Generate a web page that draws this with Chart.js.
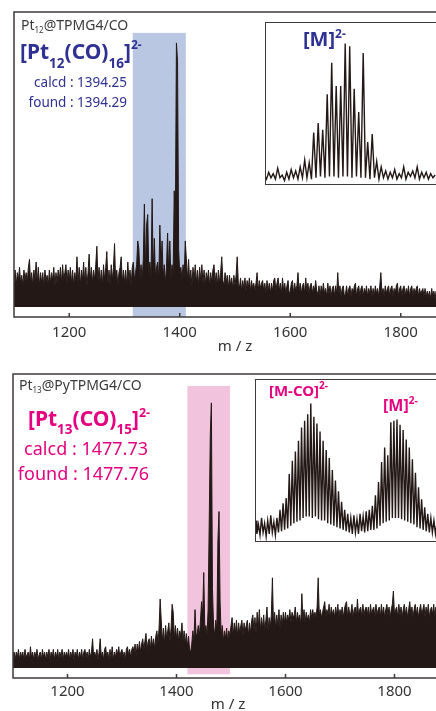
<!DOCTYPE html>
<html>
<head>
<meta charset="utf-8">
<script src="https://cdn.jsdelivr.net/npm/chart.js@4.4.0/dist/chart.umd.min.js"></script>
<style>
  html, body { margin: 0; padding: 0; background: #fff; width: 436px; height: 711px; overflow: hidden; }
  body { position: relative; font-family: "Noto Sans", sans-serif; }
  canvas { position: absolute; display: block; }
  .inset { position: absolute; background: #fff; border: 1.5px solid #3e3a39; overflow: hidden; }
  .inset canvas { left: 0; top: 0; }
  .t { position: absolute; line-height: 1; white-space: nowrap; }
  .t span { position: relative; }
  .navy { color: #2e3192; }
  .mag { color: #e4007f; }
  .b { font-weight: 700; }
</style>
</head>
<body>
<canvas id="pt12Main" width="456" height="357" style="left:0;top:0"></canvas>
<canvas id="pt13Main" width="443" height="361" style="left:0;top:362px"></canvas>

<div class="inset" style="left:265px;top:22px;width:200px;height:161px">
  <canvas id="pt12Inset" width="171" height="161"></canvas>
</div>
<div class="inset" style="left:255px;top:379px;width:200px;height:161px">
  <canvas id="pt13Inset" width="181" height="161"></canvas>
</div>

<!-- top panel text -->
<div class="t" style="left:21px;top:17.5px;font-size:14px;color:#3a3a3a">Pt<span style="font-size:8px;top:3px">12</span>@TPMG4/CO</div>
<div class="t navy b" style="left:20px;top:40.7px;font-size:21px">[Pt<span style="font-size:13.5px;top:9px">12</span>(CO)<span style="font-size:13.5px;top:9px">16</span>]<span style="font-size:12px;top:-10px">2-</span></div>
<div class="t navy" style="right:309px;top:76px;font-size:13.5px">calcd : 1394.25</div>
<div class="t navy" style="right:309px;top:96px;font-size:13.5px">found : 1394.29</div>
<div class="t navy b" style="left:303px;top:28.9px;font-size:20px">[M]<span style="font-size:12px;top:-8px">2-</span></div>

<!-- bottom panel text -->
<div class="t" style="left:19px;top:377.6px;font-size:14px;color:#3a3a3a">Pt<span style="font-size:8px;top:3px">13</span>@PyTPMG4/CO</div>
<div class="t mag b" style="left:28px;top:407.9px;font-size:21px">[Pt<span style="font-size:13.5px;top:8px">13</span>(CO)<span style="font-size:13.5px;top:8px">15</span>]<span style="font-size:12.5px;top:-9px">2-</span></div>
<div class="t mag" style="right:288px;top:439px;font-size:18px">calcd : 1477.73</div>
<div class="t mag" style="right:287px;top:464px;font-size:18px">found : 1477.76</div>
<div class="t mag b" style="left:269px;top:382.7px;font-size:15px">[M-CO]<span style="font-size:10px;top:-7px">2-</span></div>
<div class="t mag b" style="left:383px;top:396.8px;font-size:16px">[M]<span style="font-size:10px;top:-7px">2-</span></div>

<script>
const family = '"Noto Sans", sans-serif';
const ink = '#231815';
const xTicks = [1200, 1400, 1600, 1800];

// Pt12@TPMG4/CO, m/z 1100-1900 every 2 (relative intensity)
const pt12Start = 1100, pt12Step = 2;
const pt12Intensity = [
  9,14,8,13,10, 15,9,12,8,14, 10,13,9,15,18, 9,13,8,14,10, 17,9,15,8,13,      // 1100
  9,13,8,14,10, 12,8,14,9,13, 10,15,8,13,9, 14,10,15,9,16, 10,13,16,9,14,     // 1150
  10,15,9,14,8, 13,10,19,9,15, 8,14,10,17,9, 15,8,13,20,10, 15,9,14,10,16,    // 1200
  23,10,15,9,14, 8,16,10,15,21, 9,14,8,16,10, 15,24,9,14,8, 13,15,19,9,14,    // 1250
  9,14,8,17,10, 14,8,15,17,10, 13,16,25,22,11, 16,10,18,39,14, 31,35,12,17,11, // 1300
  41,13,26,11,15, 17,10,31,14,25, 11,16,9,15,28, 13,25,11,16,12, 44,30,100,93,22, // 1350
  12,15,10,16,11, 25,18,10,18,9, 14,8,15,10,16, 9,14,8,15,10, 16,9,14,8,13,   // 1400
  10,14,8,13,9, 14,16,9,13,8, 14,9,13,19,10, 8,13,9,12,7, 12,8,11,7,12,       // 1450
  8,12,19,9,7, 11,6,10,7,11, 6,10,7,11,6, 10,7,9,6,9, 13,6,10,7,9,            // 1500
  10,6,9,5,10, 6,9,5,9,6, 10,11,6,9,11, 6,9,5,11,6, 9,5,8,10,5,               // 1550
  6,9,10,5,9, 6,8,13,6,9, 5,8,9,5,11, 6,9,5,8,9, 5,8,6,10,6,                  // 1600
  5,8,4,8,5, 9,5,7,4,9, 5,8,4,7,8, 4,8,5,13,5, 8,4,7,8,4,                     // 1650
  5,8,4,7,8, 4,7,5,8,9, 4,7,8,4,7, 8,4,7,5,8, 4,7,5,8,4,                      // 1700
  7,4,8,5,7, 4,8,13,5,7, 4,8,5,7,8, 4,7,8,4,7, 5,8,9,4,7,                     // 1750
  8,4,7,8,4, 7,5,8,4,7, 8,4,7,5,7, 8,4,7,5,6, 7,4,7,4,6,                      // 1800
  4,6,3,7,4, 6,3,6,4,7, 3,6,3,6,4, 7,3,6,4,5, 6,3,7,4,6,                      // 1850
  4                                                                           // 1900
];
const pt12Band = [1315, 1411];

// Pt13@PyTPMG4/CO, m/z 1100-1888 every 2
const pt13Start = 1100, pt13Step = 2;
const pt13Intensity = [
  4,6,3,6,4, 7,3,6,4,6, 3,7,4,5,6, 3,8,4,6,3, 6,4,7,3,5,                      // 1100
  6,3,7,4,6, 3,6,4,7,3, 6,4,7,3,6, 4,7,3,6,4, 7,3,6,4,6,                      // 1150
  4,7,3,6,4, 7,3,6,4,7, 3,6,4,7,3, 6,7,4,6,3, 7,4,6,11,4,                     // 1200
  6,4,7,3,6, 11,4,6,3,7, 8,4,6,3,7, 4,8,3,6,4, 7,5,8,4,6,                     // 1250
  7,4,6,3,7, 8,5,7,4,7, 8,6,9,5,9, 6,10,6,9,11, 7,10,13,7,10,                 // 1300
  11,7,12,8,11, 7,12,14,9,15, 26,18,10,15,9, 16,11,14,17,10, 15,24,21,11,16,  // 1350
  11,15,10,14,12, 17,10,14,9,13, 8,12,7,6,9, 14,10,22,12,13, 16,12,18,25,20,  // 1400
  36,14,16,12,22, 54,88,100,30,16, 12,18,14,48,59, 25,12,16,10,14, 11,15,10,14,12, // 1450
  16,19,12,17,13, 18,12,17,13,16, 18,12,17,14,16, 18,12,17,13,18, 20,14,19,13,21, // 1500
  15,22,14,19,15, 20,14,18,23,14, 19,15,20,34,16, 21,15,20,16,22, 15,20,16,21,17, // 1550
  21,17,20,18,22, 17,21,19,20,23, 17,21,18,20,16, 28,18,22,17,21, 18,20,17,22,19, // 1600
  22,19,21,19,23, 34,20,22,19,21, 23,25,19,22,20, 24,19,23,20,22, 19,23,20,24,19, // 1650
  22,20,23,19,22, 24,25,19,23,20, 21,24,19,22,23, 19,26,20,22,23, 19,24,20,22,23, // 1700
  20,23,19,24,20, 22,23,19,24,20, 22,23,19,24,20, 23,19,22,24,20, 23,19,22,24,29, // 1750
  20,22,23,19,24, 20,23,19,22,24, 20,23,19,22,25, 20,23,19,22,24, 20,23,19,22,24, // 1800
  20,22,24,19,23, 20,24,19,22,23, 20,24,19,23,20, 22,24,19,23,20                  // 1850
];
const pt13Band = [1420, 1498];

// inset [M]2- of Pt12, m/z 1385-1404 every 0.25
const pt12InsetStart = 1385, insetStep = 0.25;
const pt12InsetIntensity = [
  4,1,6,2, 5,1,9,2, 4,0,6,1, 8,2,7,1, 10,2,15,2,          // 1385-1389
  13,1,35,2, 42,3,37,2, 63,3,86,3, 69,2,69,3, 100,3,98,2, // 1390-1394
  67,3,50,2, 93,2,28,1, 34,2,14,1, 10,2,7,1, 6,2,8,1,     // 1395-1399
  5,2,10,1, 6,3,7,2, 10,1,6,2, 6,1,5,2, 4                 // 1400-1404
];

// inset [M-CO]2- / [M]2- of Pt13, m/z 1454.5-1484 every 0.25
const pt13InsetStart = 1454.5;
const pt13InsetIntensity = [
  12,2,
  9,1,14,3, 10,0,12,2, 16,3,11,1, 14,3,20,4, 25,5,29,6,        // 1455-1459
  47,8,57,10, 64,11,72,12, 82,14,87,15, 92,15,100,14, 90,15,85,13, // 1460-1464
  79,12,72,12, 65,10,59,9, 50,8,42,7, 34,6,26,5, 20,4,17,3,    // 1465-1469
  14,2,16,3, 13,2,17,4, 15,3,19,4, 20,5,23,5, 31,6,41,8,       // 1470-1474
  56,10,67,11, 61,12,86,14, 87,14,88,14, 84,13,80,12, 73,11,67,10, // 1475-1479
  58,9,48,7, 37,6,28,5, 22,4,17,3, 14,3,12,2, 10               // 1480-1484
];

function toPoints(start, step, values) {
  return values.map((v, i) => ({ x: start + i * step, y: v }));
}

const frame = {
  id: 'frame',
  beforeDatasetsDraw(chart, args, o) {
    const { ctx, scales: { x, y } } = chart;
    const x0 = x.getPixelForValue(o.band[0]), x1 = x.getPixelForValue(o.band[1]);
    const y0 = y.getPixelForValue(o.bandTop), y1 = y.getPixelForValue(o.bandBottom);
    ctx.save();
    ctx.fillStyle = o.bandColor;
    ctx.fillRect(x0, y0, x1 - x0, y1 - y0);
    ctx.restore();
  },
  afterDraw(chart) {
    const { ctx, chartArea: a, scales: { x } } = chart;
    ctx.save();
    ctx.strokeStyle = '#3e3a39';
    ctx.lineWidth = 1.5;
    ctx.beginPath();
    ctx.moveTo(a.right + 5, a.top);
    ctx.lineTo(a.left, a.top);
    ctx.lineTo(a.left, a.bottom);
    ctx.lineTo(a.right + 5, a.bottom);
    x.ticks.forEach(t => {
      const px = x.getPixelForValue(t.value);
      ctx.moveTo(px, a.bottom);
      ctx.lineTo(px, a.bottom - 4);
    });
    ctx.stroke();
    ctx.restore();
  }
};

function mainChart(id, pts, o) {
  return new Chart(document.getElementById(id), {
    type: 'line',
    data: { datasets: [{ data: pts, borderColor: ink, backgroundColor: ink, borderWidth: 1,
                         pointRadius: 0, fill: 'origin', tension: 0 }] },
    options: {
      responsive: false, animation: false, events: [],
      layout: { padding: { left: o.left, top: o.top, right: 0, bottom: 0 } },
      plugins: { legend: { display: false }, tooltip: { enabled: false }, frame: o.frame },
      scales: {
        x: {
          type: 'linear', min: 1100, max: o.xMax,
          grid: { display: false, drawTicks: false }, border: { display: false },
          afterBuildTicks: s => { s.ticks = xTicks.map(v => ({ value: v })); },
          afterFit: s => { s.height = o.axisHeight; },
          ticks: { padding: o.tickPad, color: '#333', font: { family, size: 15 },
                   maxRotation: 0, autoSkip: false, callback: v => String(v) },
          title: { display: true, text: 'm / z', color: '#333', font: { family, size: 15 },
                   padding: { top: 0, bottom: o.titlePad } }
        },
        y: { display: false, min: o.yMin, max: o.yMax }
      }
    },
    plugins: [frame]
  });
}

function insetChart(id, pts, xMin, xMax, yMin, yMax) {
  return new Chart(document.getElementById(id), {
    type: 'line',
    data: { datasets: [{ data: pts, borderColor: ink, borderWidth: 1.4, pointRadius: 0, fill: false, tension: 0 }] },
    options: {
      responsive: false, animation: false, events: [],
      layout: { padding: 0 },
      plugins: { legend: { display: false }, tooltip: { enabled: false } },
      scales: {
        x: { type: 'linear', display: false, min: xMin, max: xMax },
        y: { display: false, min: yMin, max: yMax }
      }
    }
  });
}

mainChart('pt12Main', toPoints(pt12Start, pt12Step, pt12Intensity), {
  left: 14, top: 12, xMax: 1900, yMin: -3.8, yMax: 111.7,
  axisHeight: 40, tickPad: 7, titlePad: 1,
  frame: { band: pt12Band, bandTop: 103.8, bandBottom: -3.8, bandColor: '#b9c7e2' }
});

mainChart('pt13Main', toPoints(pt13Start, pt13Step, pt13Intensity), {
  left: 13, top: 12, xMax: 1889, yMin: -3.8, yMax: 110.9,
  axisHeight: 45, tickPad: 5, titlePad: 9,
  frame: { band: pt13Band, bandTop: 106.4, bandBottom: -2.4, bandColor: '#f2c3dc' }
});

insetChart('pt12Inset', toPoints(pt12InsetStart, insetStep, pt12InsetIntensity), 1385.2, 1404.2, -2.55, 115);
insetChart('pt13Inset', toPoints(pt13InsetStart, insetStep, pt13InsetIntensity), 1454.6, 1484.0, -3.4, 117.7);
</script>
</body>
</html>
